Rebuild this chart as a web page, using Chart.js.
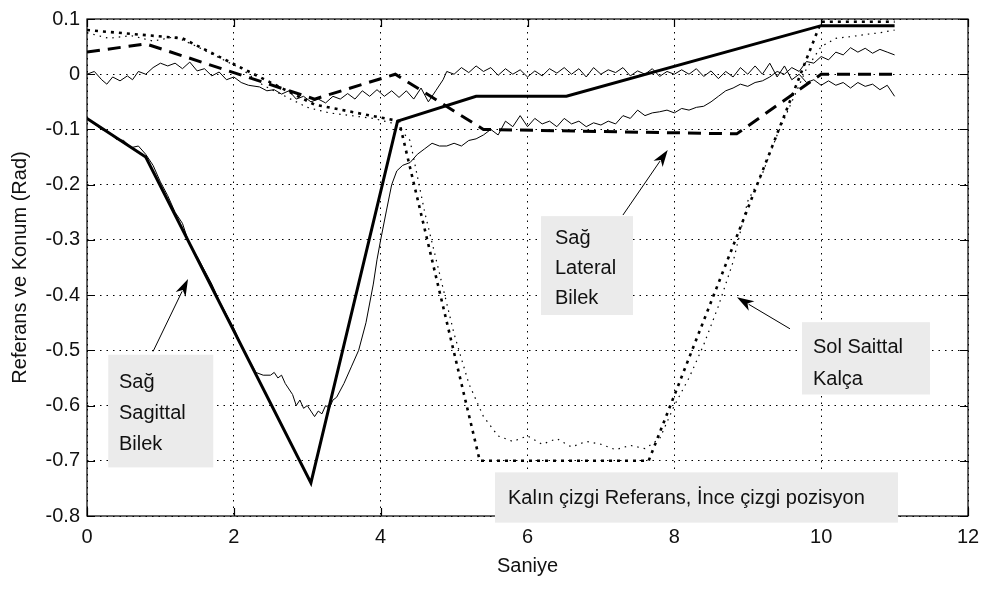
<!DOCTYPE html>
<html>
<head>
<meta charset="utf-8">
<script src="https://cdn.jsdelivr.net/npm/chart.js@4"></script>
<style>
  body { margin: 0; background: #fff; }
</style>
</head>
<body>
<canvas id="chart" width="990" height="590"></canvas>
<script>
// time axis (s) and joint angles (rad)
const xTicks = [0, 2, 4, 6, 8, 10, 12];
const yTicks = [0.1, 0, -0.1, -0.2, -0.3, -0.4, -0.5, -0.6, -0.7, -0.8];

// Sağ Sagittal Bilek - reference (thick)
const sagRefT = [0, 0.8, 3.05, 4.23, 5.3, 6.53, 10.0, 11.0];
const sagRefY = [-0.08, -0.15, -0.74, -0.085, -0.04, -0.04, 0.088, 0.088];

// Sağ Sagittal Bilek - position (thin)
const sagPosT = [0, 0.1, 0.2, 0.3, 0.4, 0.5, 0.6, 0.7, 0.8, 0.9, 1.0, 1.1, 1.2, 1.3, 1.4, 1.5, 1.6, 1.7, 1.8, 1.9,
  2.0, 2.1, 2.2, 2.3, 2.4, 2.5, 2.55, 2.6, 2.65, 2.7, 2.75, 2.8, 2.85, 2.9, 2.95, 3.0, 3.05, 3.1, 3.15, 3.2,
  3.25, 3.3, 3.35, 3.4, 3.5, 3.6, 3.7, 3.8, 3.9, 3.95, 4.0, 4.08, 4.15, 4.22, 4.3, 4.4, 4.5, 4.6, 4.7, 4.8,
  4.9, 5.0, 5.1, 5.2, 5.3, 5.4, 5.5, 5.6, 5.7, 5.8, 5.9, 6.0, 6.1, 6.2, 6.3, 6.4, 6.5, 6.6, 6.7, 6.8,
  6.9, 7.0, 7.1, 7.2, 7.3, 7.4, 7.5, 7.6, 7.7, 7.8, 7.9, 8.0, 8.1, 8.2, 8.3, 8.4, 8.5, 8.6, 8.7, 8.8,
  8.9, 9.0, 9.1, 9.2, 9.3, 9.4, 9.5, 9.6, 9.7, 9.8, 9.9, 10.0, 10.1, 10.2, 10.3, 10.4, 10.5, 10.6, 10.7, 10.8,
  10.9, 11.0];
const sagPosY = [-0.08, -0.09, -0.1, -0.105, -0.118, -0.12, -0.133, -0.13, -0.145, -0.165, -0.195, -0.22, -0.25, -0.27, -0.31, -0.33, -0.355, -0.38, -0.41, -0.435,
  -0.46, -0.49, -0.515, -0.54, -0.545, -0.545, -0.54, -0.55, -0.545, -0.56, -0.57, -0.58, -0.6, -0.59, -0.605, -0.6, -0.61, -0.62, -0.61, -0.615,
  -0.6, -0.605, -0.59, -0.585, -0.56, -0.53, -0.5, -0.45, -0.38, -0.336, -0.3, -0.246, -0.2, -0.175, -0.165, -0.16, -0.145, -0.135, -0.125, -0.13,
  -0.13, -0.125, -0.13, -0.12, -0.117, -0.11, -0.1, -0.11, -0.085, -0.095, -0.075, -0.095, -0.08, -0.09, -0.085, -0.095, -0.08, -0.09, -0.085, -0.095,
  -0.088, -0.092, -0.085, -0.09, -0.075, -0.08, -0.065, -0.075, -0.07, -0.068, -0.065, -0.07, -0.062, -0.065, -0.06, -0.058, -0.05, -0.04, -0.03, -0.025,
  -0.018, -0.022, -0.015, -0.012, -0.005, 0.005, 0.0, 0.012, 0.005, 0.023, 0.02, 0.032, 0.026, 0.04, 0.035, 0.048, 0.04, 0.047, 0.038, 0.045,
  0.04, 0.035];

// Sağ Lateral Bilek - reference (thick dashed)
const latRefT = [0, 0.8, 3.1, 4.2, 5.4, 8.85, 10.0, 11.0];
const latRefY = [0.04, 0.055, -0.045, 0.0, -0.1, -0.108, 0.0, 0.0];

// Sağ Lateral Bilek - position (thin)
const latPosT = [0, 0.1, 0.2, 0.27, 0.35, 0.45, 0.55, 0.62, 0.7, 0.8, 0.9, 1.0, 1.1, 1.2, 1.3, 1.4, 1.5, 1.6, 1.7, 1.8,
  1.9, 2.0, 2.1, 2.2, 2.35, 2.45, 2.55, 2.65, 2.75, 2.85, 2.95, 3.05, 3.15, 3.25, 3.35, 3.45, 3.55, 3.65, 3.75, 3.85,
  3.95, 4.05, 4.15, 4.25, 4.35, 4.45, 4.55, 4.65, 4.75, 4.85, 4.9, 5.0, 5.1, 5.2, 5.3, 5.4, 5.5, 5.6, 5.7, 5.8,
  5.9, 6.0, 6.1, 6.2, 6.3, 6.4, 6.5, 6.6, 6.7, 6.8, 6.9, 7.0, 7.1, 7.2, 7.3, 7.4, 7.5, 7.6, 7.7, 7.8,
  7.9, 8.0, 8.1, 8.2, 8.3, 8.4, 8.5, 8.6, 8.7, 8.8, 8.9, 9.0, 9.1, 9.2, 9.3, 9.4, 9.5, 9.6, 9.7, 9.8,
  9.9, 10.0, 10.1, 10.2, 10.3, 10.4, 10.5, 10.6, 10.7, 10.8, 10.9, 11.0];
const latPosY = [0.0, 0.005, -0.01, -0.018, -0.005, -0.012, -0.003, -0.01, 0.005, 0.0, 0.012, 0.02, 0.015, 0.02, 0.01, 0.022, 0.006, 0.01, -0.003, 0.004,
  -0.01, -0.005, -0.015, -0.02, -0.023, -0.03, -0.028, -0.036, -0.03, -0.045, -0.04, -0.05, -0.045, -0.052, -0.04, -0.045, -0.035, -0.045, -0.03, -0.04,
  -0.028, -0.04, -0.03, -0.042, -0.03, -0.045, -0.025, -0.05, -0.03, -0.01, 0.005, 0.0, 0.012, 0.003, 0.015, 0.005, 0.012, -0.002, 0.01, 0.0,
  0.008, -0.005, 0.006, -0.003, 0.01, 0.002, 0.012, 0.0, 0.01, -0.005, 0.012, 0.0, 0.008, 0.003, 0.012, -0.003, 0.006, 0.0, 0.01, -0.004,
  0.005, 0.0, 0.008, 0.0, 0.01, -0.004, 0.006, -0.008, 0.005, -0.005, 0.012, 0.0, 0.015, 0.0, 0.02, -0.005, 0.015, -0.01, 0.0, -0.015,
  -0.01, -0.02, -0.012, -0.02, -0.015, -0.025, -0.015, -0.022, -0.018, -0.028, -0.02, -0.04];

// Sol Saittal Kalça - reference (thick dotted)
const kalRefT = [0, 1.3, 3.1, 4.25, 5.35, 7.65, 10.0, 11.0];
const kalRefY = [0.08, 0.065, -0.055, -0.085, -0.7, -0.7, 0.095, 0.095];

// Sol Saittal Kalça - position (thin dotted)
const kalPosT = [0, 0.3, 0.6, 0.9, 1.2, 1.5, 1.8, 2.1, 2.4, 2.7, 3.0, 3.3, 3.6, 3.9, 4.2, 4.4, 4.6, 4.8, 5.0, 5.2,
  5.4, 5.6, 5.8, 6.0, 6.2, 6.4, 6.6, 6.8, 7.0, 7.2, 7.4, 7.6, 7.8, 8.0, 8.2, 8.4, 8.6, 8.8, 9.0, 9.2,
  9.4, 9.6, 9.8, 10.0, 10.2, 10.4, 10.6, 10.8, 11.0];
const kalPosY = [0.075, 0.065, 0.07, 0.06, 0.068, 0.05, 0.03, 0.01, -0.02, -0.04, -0.06, -0.07, -0.075, -0.08, -0.09, -0.12, -0.25, -0.36, -0.47, -0.56,
  -0.62, -0.655, -0.665, -0.655, -0.67, -0.66, -0.675, -0.665, -0.67, -0.68, -0.672, -0.678, -0.66, -0.6, -0.55, -0.49, -0.42, -0.34, -0.23, -0.18,
  -0.11, -0.05, 0.01, 0.05, 0.065, 0.068, 0.072, 0.075, 0.08];

// text boxes with arrows, placed in axis units
const notes = [
  { lines: ['Sağ', 'Sagittal', 'Bilek'], box: [0.29, -0.508, 1.72, -0.712], text: [0.436, -0.558], gap: 31,
    arrow: [0.9, -0.502, 1.376, -0.371] },
  { lines: ['Sağ', 'Lateral', 'Bilek'], box: [6.184, -0.257, 7.437, -0.436], text: [6.374, -0.298], gap: 30,
    arrow: [7.30, -0.255, 7.91, -0.137] },
  { lines: ['Sol Saittal', 'Kalça'], box: [9.739, -0.449, 11.482, -0.58], text: [9.888, -0.494], gap: 32,
    arrow: [9.575, -0.461, 8.853, -0.404] },
  { lines: ['Kalın çizgi Referans, İnce çizgi pozisyon'], box: [5.557, -0.721, 11.046, -0.812], text: [5.734, -0.768], gap: 0 }
];

const FONT = "'Liberation Sans', Arial, sans-serif";

function toPoints(ts, ys) {
  return ts.map((t, i) => ({ x: t, y: ys[i] }));
}

function drawArrow(ctx, x0, y0, x1, y1) {
  const a = Math.atan2(y1 - y0, x1 - x0);
  const len = 17, half = 5.5;
  const c = Math.cos(a), s = Math.sin(a);
  ctx.beginPath();
  ctx.moveTo(x0, y0);
  ctx.lineTo(x1 - c * len * 0.8, y1 - s * len * 0.8);
  ctx.stroke();
  ctx.beginPath();
  ctx.moveTo(x1, y1);
  ctx.lineTo(x1 - c * len - s * half, y1 - s * len + c * half);
  ctx.lineTo(x1 - c * len * 0.72, y1 - s * len * 0.72);
  ctx.lineTo(x1 - c * len + s * half, y1 - s * len - c * half);
  ctx.closePath();
  ctx.fill();
}

// box frame with inward ticks, then the notes on top
const framePlugin = {
  id: 'frame',
  afterDraw(chart) {
    const { ctx, chartArea: a, scales: { x, y } } = chart;
    const tl = 8;
    ctx.save();
    ctx.strokeStyle = '#000';
    ctx.lineWidth = 1.2;
    ctx.strokeRect(a.left, a.top, a.right - a.left, a.bottom - a.top);
    ctx.beginPath();
    xTicks.forEach(v => {
      const px = Math.round(x.getPixelForValue(v)) + 0.5;
      ctx.moveTo(px, a.bottom); ctx.lineTo(px, a.bottom - tl);
      ctx.moveTo(px, a.top); ctx.lineTo(px, a.top + tl);
    });
    yTicks.forEach(v => {
      const py = Math.round(y.getPixelForValue(v)) + 0.5;
      ctx.moveTo(a.left, py); ctx.lineTo(a.left + tl, py);
      ctx.moveTo(a.right, py); ctx.lineTo(a.right - tl, py);
    });
    ctx.stroke();

    notes.forEach(n => {
      const bx0 = x.getPixelForValue(n.box[0]), by0 = y.getPixelForValue(n.box[1]);
      const bx1 = x.getPixelForValue(n.box[2]), by1 = y.getPixelForValue(n.box[3]);
      ctx.fillStyle = '#ebebeb';
      ctx.fillRect(bx0, by0, bx1 - bx0, by1 - by0);
      ctx.fillStyle = '#111';
      ctx.font = '20px ' + FONT;
      ctx.textBaseline = 'middle';
      ctx.textAlign = 'left';
      const tx = x.getPixelForValue(n.text[0]), ty = y.getPixelForValue(n.text[1]);
      n.lines.forEach((s, i) => ctx.fillText(s, tx, ty + i * n.gap));
      if (n.arrow) {
        ctx.lineWidth = 1;
        ctx.fillStyle = '#000';
        drawArrow(ctx,
          x.getPixelForValue(n.arrow[0]), y.getPixelForValue(n.arrow[1]),
          x.getPixelForValue(n.arrow[2]), y.getPixelForValue(n.arrow[3]));
      }
    });
    ctx.restore();
  }
};

function lineSet(ts, ys, width, dash) {
  return {
    data: toPoints(ts, ys),
    borderColor: '#000',
    borderWidth: width,
    borderDash: dash || [],
    pointRadius: 0,
    tension: 0,
    fill: false
  };
}

function getKinematicsChart(ctx) {
  const chart = new Chart(ctx, {
    type: 'line',
    data: {
      datasets: [
        lineSet(kalPosT, kalPosY, 1.2, [1.5, 5]),
        lineSet(latPosT, latPosY, 1),
        lineSet(sagPosT, sagPosY, 1),
        lineSet(kalRefT, kalRefY, 2.6, [3, 5]),
        lineSet(latRefT, latRefY, 3, [13, 8]),
        lineSet(sagRefT, sagRefY, 3)
      ]
    },
    options: {
      responsive: false,
      animation: false,
      layout: { padding: { top: 14, right: 22, bottom: 0, left: 0 } },
      plugins: {
        legend: { display: false },
        tooltip: { enabled: false }
      },
      scales: {
        x: {
          type: 'linear',
          min: 0,
          max: 12,
          afterBuildTicks: s => { s.ticks = xTicks.map(v => ({ value: v })); },
          afterFit: s => { s.height = 74; },
          grid: { color: '#000', lineWidth: 1, drawTicks: false },
          border: { display: false, dash: [1.5, 5] },
          ticks: { color: '#111', padding: 9, font: { family: FONT, size: 20 } },
          title: { display: true, text: 'Saniye', color: '#111', padding: { top: 0, bottom: 12 },
            font: { family: FONT, size: 20 } }
        },
        y: {
          type: 'linear',
          min: -0.8,
          max: 0.1,
          afterBuildTicks: s => { s.ticks = yTicks.map(v => ({ value: v })); },
          afterFit: s => { s.width = 87; },
          grid: { color: '#000', lineWidth: 1, drawTicks: false },
          border: { display: false, dash: [1.5, 5] },
          ticks: {
            color: '#111',
            padding: 7,
            font: { family: FONT, size: 20 },
            callback: v => String(Number(v.toFixed(1)))
          },
          title: { display: true, text: 'Referans ve Konum (Rad)', color: '#111', padding: { top: 8, bottom: 0 },
            font: { family: FONT, size: 20 } }
        }
      }
    },
    plugins: [framePlugin]
  });
  return chart;
}

getKinematicsChart(document.getElementById('chart'));
</script>
</body>
</html>
